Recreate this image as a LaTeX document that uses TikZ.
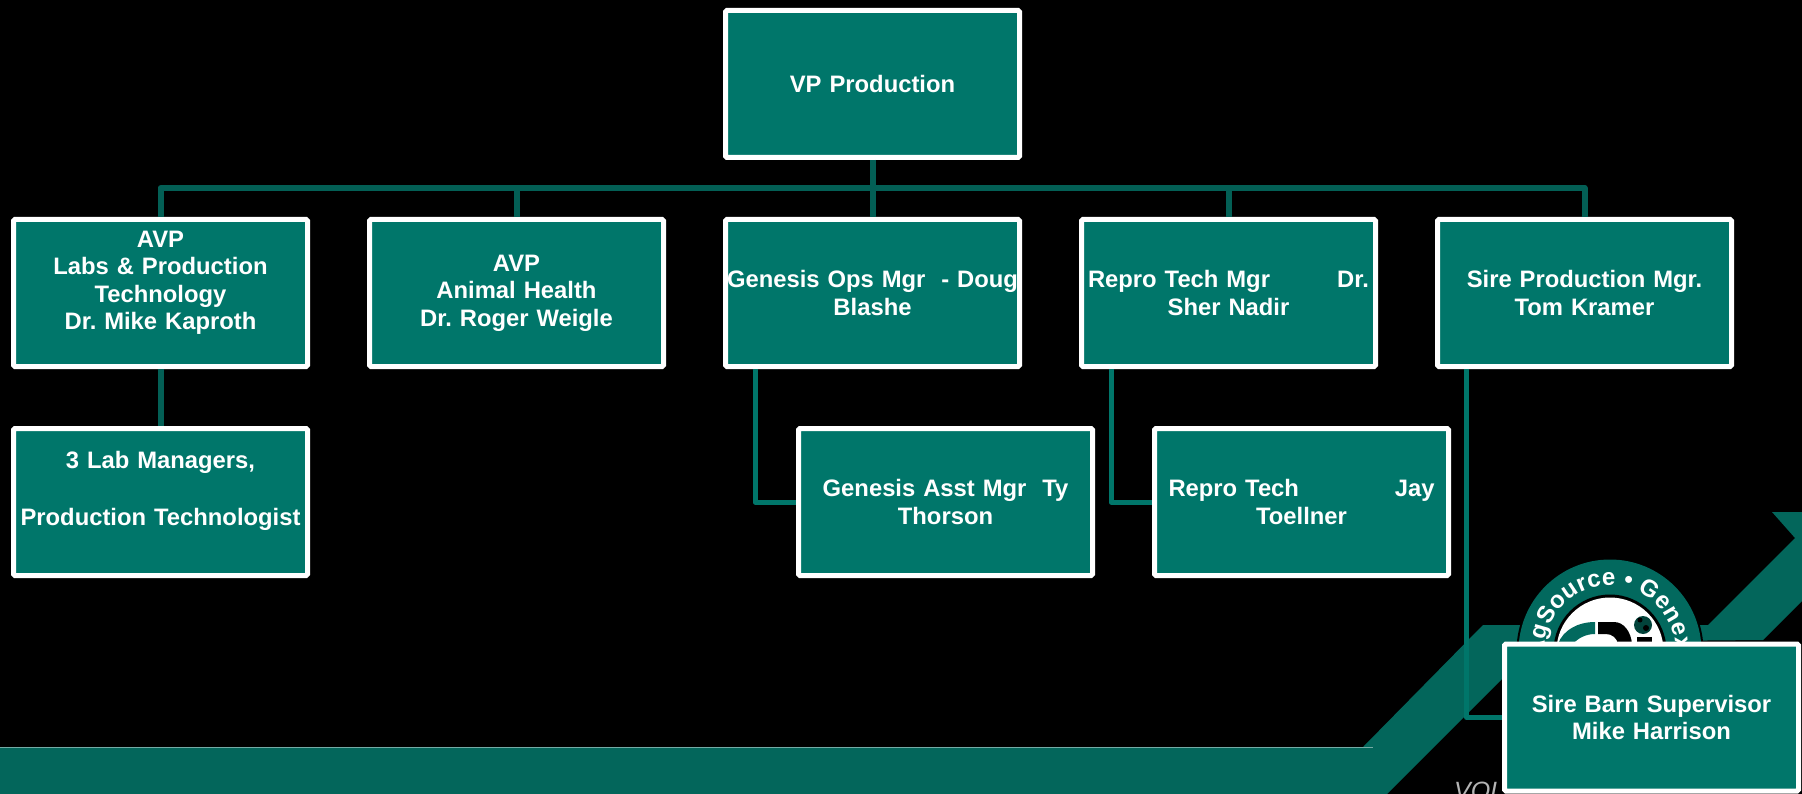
\documentclass[tikz,border=0pt]{standalone}
\usepackage{fontspec}
\setmainfont{Liberation Sans}
\usetikzlibrary{decorations.text,calc}
\definecolor{boxfill}{HTML}{00766A}
\definecolor{busline}{HTML}{035F55}
\definecolor{bandcol}{HTML}{03665B}
\definecolor{volgray}{HTML}{B4B4B4}
\tikzset{
  orgbox/.style={draw=white,line width=5pt,fill=boxfill,rounded corners=1.5pt,
    minimum width=294pt,minimum height=147pt,inner sep=0pt,text width=294pt,
    align=center,text=white,font=\fontsize{23.8}{27.5}\bfseries\selectfont\frenchspacing},
  busconn/.style={draw=busline,line width=6pt,line join=round},
  subconn/.style={draw=boxfill,line width=5pt,line join=round}
}
\newcommand{\spreadline}[3]{\hbox to #1{#2\hfill #3}}
\begin{document}
\begin{tikzpicture}[x=1pt,y=1pt]
\useasboundingbox (0,0) rectangle (1802,-794);
\clip (0,0) rectangle (1802,-794);
\fill[black] (0,0) rectangle (1802,-794);
% band with arrow
\fill[bandcol] (0,-747) -- (1363,-747) -- (1483,-625) -- (1708,-625) -- (1795,-538)
  -- (1772,-512) -- (1802,-512) -- (1802,-601) -- (1763,-640) -- (1539,-642)
  -- (1387,-794) -- (0,-794) -- cycle;
\draw[color=white!45!bandcol,line width=1pt] (0,-747) -- (1373,-747);
% logo
\fill[black] (1610,-651) circle (93.5);
\fill[bandcol!80!boxfill] (1610,-651) circle (91.5);
\fill[black] (1610,-651) circle (56.5);
\fill[white] (1610,-651) circle (53.5);
\path[decorate,decoration={text along path,
    text={|\fontsize{24}{24}\bfseries\selectfont\color{white}|AgSource • Genex},
    text align={fit to path}}]
  (1610,-651) ++(186:65.5) arc[start angle=186,end angle=0,radius=65.5];
\fill[bandcol!80!boxfill] (1558,-644) .. controls (1563,-630) and (1578,-622) .. (1595,-622)
  -- (1595,-634) .. controls (1586,-634) and (1578,-638) .. (1573,-644) -- cycle;
\fill[black] (1598,-622) -- (1614,-622) .. controls (1624,-622) and (1631,-632) .. (1632,-644)
  -- (1618,-644) .. controls (1617,-638) and (1612,-634) .. (1606,-634) -- (1598,-634) -- cycle;
\fill[black] (1637,-637) rectangle (1652,-644);
\fill[busline!70!black] (1643,-625) circle (9);
\fill[black] (1640,-620) circle (2.5) (1646,-628) circle (3);
% bottom text
\node[anchor=base west,inner sep=0pt,text=volgray,font=\fontsize{25}{25}\itshape\selectfont] (vol) at (1454,-799) {VOL};
% nodes
\node[orgbox] (vp) at (872.5,-84) {VP Production};
\node[orgbox] (avp1) at (160.5,-293) {AVP\\Labs \& Production\\Technology\\Dr. Mike Kaproth\par\vspace*{20pt}};
\node[orgbox] (avp2) at (516.5,-293) {AVP\\Animal Health\\Dr. Roger Weigle};
\node[orgbox] (ops) at (872.5,-293) {Genesis Ops Mgr\ \ - Doug\\Blashe};
\node[orgbox] (rmgr) at (1228.5,-293) {\spreadline{281pt}{Repro Tech Mgr}{Dr.}\\Sher Nadir};
\node[orgbox] (sire) at (1584.5,-293) {Sire Production Mgr.\\Tom Kramer};
\node[orgbox] (lab) at (160.5,-502) {3 Lab Managers,\\[29pt]Production Technologist\par\vspace*{22pt}};
\node[orgbox] (gasst) at (945.5,-502) {Genesis Asst Mgr\ \ Ty\\Thorson};
\node[orgbox] (rtech) at (1301.5,-502) {\spreadline{266pt}{Repro Tech}{Jay}\\Toellner};
\node[orgbox] (barn) at (1651.5,-717.5) {Sire Barn Supervisor\\Mike Harrison};
% connectors
\coordinate (bus) at (872.5,-188);
\draw[busconn] (vp.south) -- (ops.north);
\draw[busconn] (avp1.north) |- (bus);
\draw[busconn] (avp2.north) |- (bus);
\draw[busconn] (rmgr.north) |- (bus);
\draw[busconn] (sire.north) |- (bus);
\draw[busconn] (avp1.south) -- (lab.north);
\draw[subconn] ($(ops.south west)+(32,0)$) |- (gasst.west);
\draw[subconn] ($(rmgr.south west)+(32,0)$) |- (rtech.west);
\draw[subconn] ($(sire.south west)+(31.5,0)$) |- (barn.west);
\end{tikzpicture}
\end{document}
